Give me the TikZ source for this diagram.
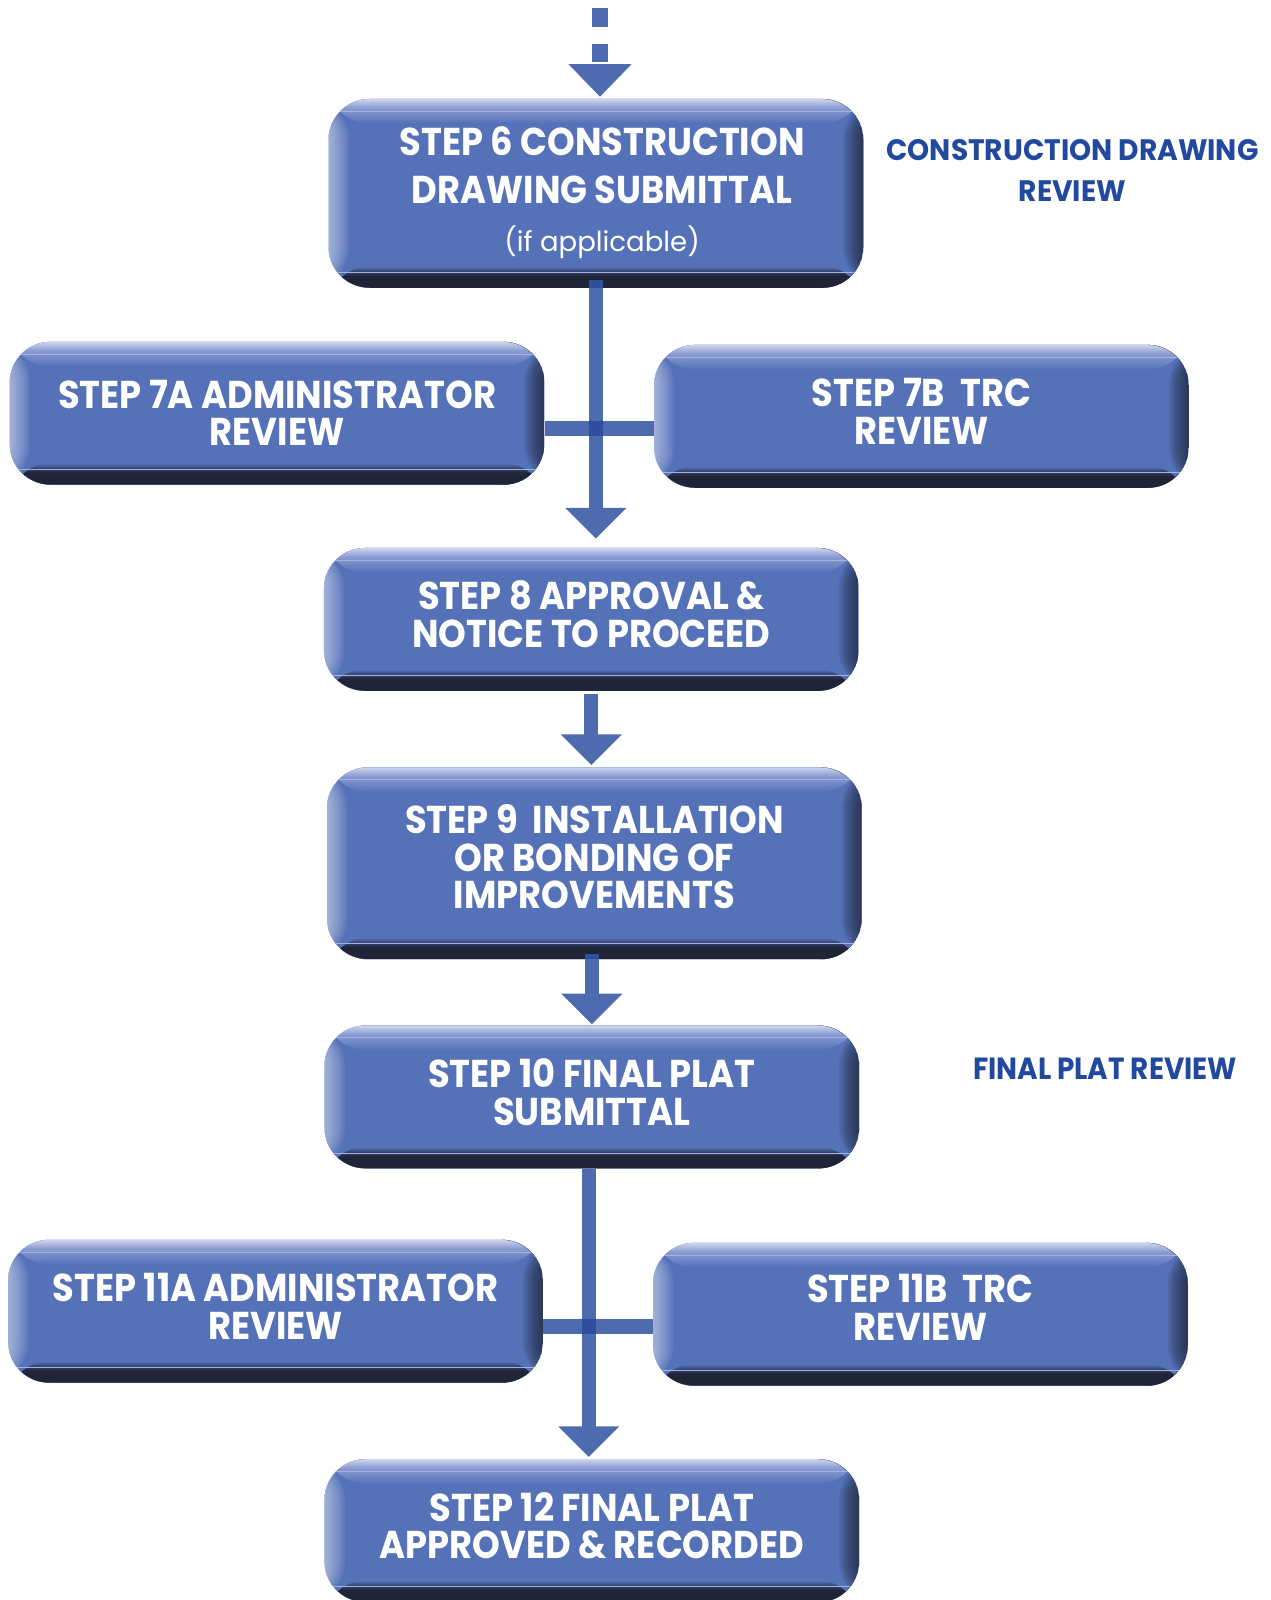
\documentclass[tikz,border=0pt]{standalone}
\usepackage{fontspec}
\setmainfont{Poppins}
\newfontfamily\boxfont{Poppins}[FakeStretch=0.91]
\newfontfamily\labfont{Poppins}[FakeStretch=0.95]
\usetikzlibrary{arrows.meta,calc}
\definecolor{bblue}{HTML}{5572B9}
\definecolor{bmid}{HTML}{8C9DD2}
\definecolor{btop}{HTML}{CDD4EC}
\definecolor{bdark}{HTML}{1F2436}
\definecolor{bdarkb}{HTML}{33406E}
\definecolor{bline}{HTML}{A3B1DD}
\definecolor{abl}{HTML}{4F6BB0}
\definecolor{junc}{HTML}{2F4E9E}
\definecolor{labblue}{HTML}{2249A0}
\pgfdeclareverticalshading{topband}{100bp}{color(0bp)=(bblue); color(25bp)=(bblue); color(58bp)=(bmid); color(75bp)=(btop); color(100bp)=(btop)}
\pgfdeclareverticalshading{botband}{100bp}{color(0bp)=(bdark); color(25bp)=(bdark); color(53bp)=(bdark); color(63bp)=(bdarkb); color(75bp)=(bblue); color(100bp)=(bblue)}
\tikzset{
  stepbox/.style={rectangle, rounded corners=40pt, fill=bblue, inner sep=0pt,
    minimum width=524pt, minimum height=140pt, text=white, align=center,
    text depth=10pt,
    font=\boxfont\bfseries\fontsize{38}{37}\selectfont,
    path picture={
      \coordinate (pNW) at (path picture bounding box.north west);
      \coordinate (pSE) at (path picture bounding box.south east);
      \coordinate (pSW) at (pNW |- pSE);
      \coordinate (pNE) at (pSE |- pNW);
      \fill[shading=topband] (pNW) rectangle ($(pNE)+(0pt,-24pt)$);
      \fill[shading=botband] (pSW) rectangle ($(pSE)+(0pt,21pt)$);
      \foreach \k in {1,...,10}{
        \fill[white, opacity=.06] (pNW) rectangle ($(pSW)+(\k*2pt,0pt)$);
      }
      \foreach \k in {1,...,11}{
        \fill[bdark, opacity=.1] ($(pNE)+(-\k*1.8pt,0pt)$) rectangle (pSE);
      }
      \draw[bline, line width=0.8pt] ($(pNW)+(0pt,-12pt)$) -- ($(pNE)+(0pt,-12pt)$);
      \draw[bline, line width=0.8pt] ($(pSW)+(0pt,15pt)$) -- ($(pSE)+(0pt,15pt)$);
    }},
  conn/.style={draw=abl, line width=14pt, -{Triangle[width=58pt,length=30pt]}},
  barline/.style={draw=abl, line width=15pt},
  lab/.style={text=labblue, align=center, inner sep=0pt},
}
\begin{document}
\begin{tikzpicture}[x=1pt,y=-1pt]
\path[use as bounding box] (0,0) rectangle (1245,1568);
\clip (0,0) rectangle (1245,1568);

% boxes
\node[stepbox, minimum height=185pt] (box6) at (584,189.5) {};
\node[text=white, font=\boxfont\bfseries\fontsize{38}{47}\selectfont, align=center, anchor=base] (t6) at (590,199) {STEP 6 CONSTRUCTION\\DRAWING SUBMITTAL};
\node[text=white, font=\fontsize{27}{30}\selectfont, anchor=base] (t6b) at (590,246) {(if applicable)};
\node[stepbox, text depth=1pt] (box7a) at (271.5,405) {STEP 7A ADMINISTRATOR\\REVIEW};
\node[stepbox] (box7b) at (903,408) {STEP 7B\ \ TRC\\REVIEW};
\node[stepbox] (box8) at (579.5,607) {STEP 8 APPROVAL \&\\NOTICE TO PROCEED};
\node[stepbox, minimum height=188pt, text depth=13pt] (box9) at (582.5,846) {STEP 9\ \ INSTALLATION\\OR BONDING OF\\IMPROVEMENTS};
\node[stepbox] (box10) at (580,1075) {STEP 10 FINAL PLAT\\SUBMITTAL};
\node[stepbox] (box11a) at (270,1285) {STEP 11A ADMINISTRATOR\\REVIEW};
\node[stepbox, text depth=14pt] (box11b) at (902,1288) {STEP 11B\ \ TRC\\REVIEW};
\node[stepbox] (box12) at (580,1500) {STEP 12 FINAL PLAT\\APPROVED \& RECORDED};

% side labels
\node[lab, font=\labfont\bfseries\fontsize{29}{40}\selectfont] (lbl1) at (1051,167) {CONSTRUCTION DRAWING\\REVIEW};
\node[lab, font=\boxfont\bfseries\fontsize{30}{36}\selectfont] (lbl2) at (1083,1047) {FINAL PLAT REVIEW};

% incoming dashed arrow
\coordinate (top) at (588,8);
\draw[draw=abl, line width=16pt, dash pattern=on 18pt off 17pt, -{Triangle[width=60pt,length=32pt]}, shorten >=2pt] (top) -- (top |- box6.north);

% 6 -> 8 with branch 7A / 7B
\coordinate (s6) at (box6.south);
\draw[conn, shorten >=9pt] (s6) -- (s6 |- box8.north);
\fill[junc] ($(s6)+(-7pt,0pt)$) rectangle ($(s6)+(7pt,8pt)$);
\coordinate (b1L) at ([yshift=-15pt]box7a.east);
\coordinate (b1R) at (b1L -| box7b.west);
\draw[barline] (b1L) -- (b1R);
\coordinate (j1) at (b1L -| s6);
\fill[junc] ($(j1)+(-7pt,-7.5pt)$) rectangle ($(j1)+(7pt,7.5pt)$);

% 8 -> 9
\draw[conn, shorten <=3pt, shorten >=2pt] (box8.south) -- (box8.south |- box9.north);

% 9 -> 10
\coordinate (s9) at (box10.north |- box9.south);
\draw[conn, shorten >=1pt] ([yshift=5pt]s9) -- (box10.north);
\fill[junc] ($(s9)+(-7pt,0pt)$) rectangle ($(s9)+(7pt,5pt)$);

% 10 -> 12 with branch 11A / 11B
\coordinate (s10) at ([xshift=-3pt]box10.south);
\draw[conn, shorten >=2pt] (s10) -- (s10 |- box12.north);
\coordinate (b2L) at ([yshift=-15pt]box11a.east);
\coordinate (b2R) at (b2L -| box11b.west);
\draw[barline] (b2L) -- (b2R);
\coordinate (j2) at (b2L -| s10);
\fill[junc] ($(j2)+(-7pt,-7.5pt)$) rectangle ($(j2)+(7pt,7.5pt)$);
\end{tikzpicture}
\end{document}
